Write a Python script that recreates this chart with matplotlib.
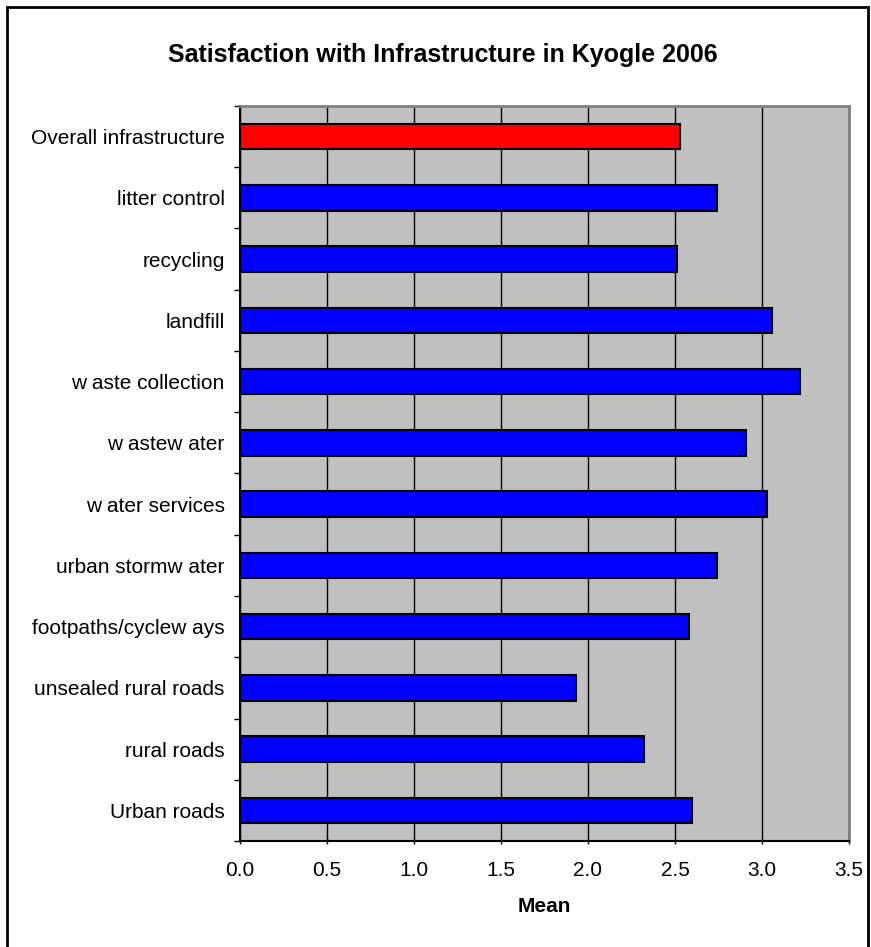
import matplotlib.pyplot as plt
from matplotlib.patches import Rectangle
import numpy as np

plt.rcParams['font.family'] = ['Liberation Sans', 'DejaVu Sans']

# categories, bottom to top
categories = ['Urban roads', 'rural roads', 'unsealed rural roads',
              'footpaths/cyclew ays', 'urban stormw ater', 'w ater services',
              'w astew ater', 'w aste collection', 'landfill', 'recycling',
              'litter control', 'Overall infrastructure']
means = [2.60, 2.32, 1.93, 2.58, 2.74, 3.03, 2.91, 3.22, 3.06, 2.51, 2.74, 2.53]
bar_colors = ['#0000FF'] * 11 + ['#FF0000']
x_ticks = [0.0, 0.5, 1.0, 1.5, 2.0, 2.5, 3.0, 3.5]

fig = plt.figure(figsize=(8.71, 9.47), dpi=100)
ax = fig.add_axes([240 / 871, 1 - 841 / 947, 609 / 871, 735 / 947])

# outer chart border
fig.patches.append(Rectangle((7 / 871, -0.01), 861 / 871, 1 - 7 / 947 + 0.01,
                             transform=fig.transFigure, fill=False,
                             edgecolor='black', linewidth=2))

ypos = np.arange(len(categories))
ax.set_facecolor('#C0C0C0')
ax.barh(ypos, means, height=0.42, color=bar_colors, edgecolor='black',
        linewidth=1.5, zorder=3)

ax.set_xlim(0, 3.5)
ax.set_ylim(-0.5, len(categories) - 0.5)
ax.set_xticks(x_ticks)
ax.set_xticklabels(['%.1f' % v for v in x_ticks], fontsize=15)
ax.xaxis.grid(True, color='black', linewidth=1, zorder=1)
ax.set_axisbelow(True)

ax.set_yticks(ypos)
ax.set_yticklabels(categories, fontsize=15)
ax.tick_params(axis='y', length=0, pad=11)
ax.set_yticks(np.arange(-0.5, len(categories)), minor=True)
ax.tick_params(axis='y', which='minor', length=4.5, width=1, direction='out')
ax.tick_params(axis='x', length=5, width=1, direction='inout', pad=12)

for side in ['top', 'right']:
    ax.spines[side].set_color('#808080')
    ax.spines[side].set_linewidth(2)
for side in ['left', 'bottom']:
    ax.spines[side].set_color('black')
    ax.spines[side].set_linewidth(1.5)

ax.set_xlabel('Mean', fontsize=15, fontweight='bold', labelpad=12)
fig.text(443 / 871, 1 - 55 / 947, 'Satisfaction with Infrastructure in Kyogle 2006',
         ha='center', va='center', fontsize=18, fontweight='bold')

fig.savefig('out.png', dpi=100)
